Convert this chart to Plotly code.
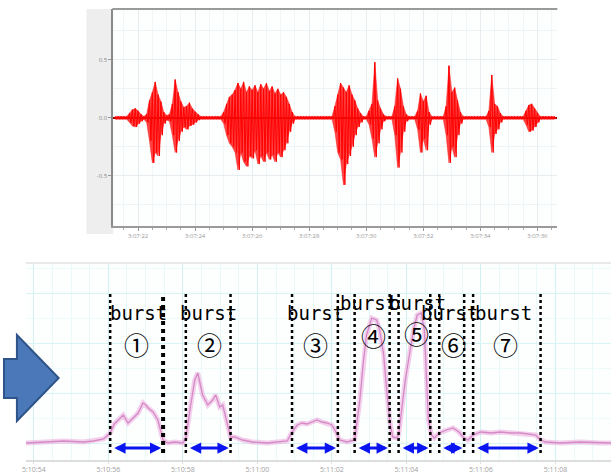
import numpy as np
import plotly.graph_objects as go

W, H = 611, 475

# ---------------- top panel: audio waveform envelope (seconds after 3:07:00) ----------------
wave_t0 = 21.2
wave_step = 0.1
wave_hi = [0.012, 0.012, 0.012, 0.012, 0.012,
           0.04, 0.07, 0.08, 0.06, 0.03,
           0.012, 0.03,
           0.15, 0.22, 0.31, 0.20, 0.14, 0.05,
           0.02, 0.03,
           0.12, 0.33, 0.22, 0.14, 0.09, 0.10, 0.13, 0.08, 0.05, 0.03,
           0.012, 0.012, 0.012, 0.012, 0.012, 0.012, 0.012, 0.012,
           0.05,
           0.12, 0.18, 0.20, 0.24, 0.30, 0.25, 0.31, 0.22, 0.27, 0.24, 0.28, 0.22,
           0.29, 0.25, 0.30, 0.23, 0.27, 0.21, 0.25, 0.20, 0.22, 0.18, 0.12, 0.05,
           0.012, 0.012, 0.012, 0.012, 0.012, 0.012, 0.012, 0.012, 0.012, 0.012, 0.012, 0.012, 0.012, 0.012,
           0.10, 0.20, 0.30, 0.26, 0.22, 0.28, 0.20, 0.15, 0.08, 0.04,
           0.012, 0.012,
           0.06, 0.12, 0.48, 0.15, 0.08, 0.03,
           0.012, 0.012, 0.012,
           0.10, 0.34, 0.25, 0.10, 0.03,
           0.012, 0.012, 0.012,
           0.06, 0.21, 0.14, 0.19, 0.05,
           0.012, 0.012, 0.012, 0.012, 0.012,
           0.10, 0.45, 0.22, 0.26, 0.15, 0.05,
           0.012, 0.012, 0.012, 0.012, 0.012, 0.012, 0.012, 0.012, 0.012,
           0.06, 0.37, 0.12, 0.10, 0.04,
           0.012, 0.012, 0.012, 0.012, 0.012, 0.012, 0.012, 0.012,
           0.06, 0.11, 0.12, 0.08, 0.04,
           0.012, 0.012, 0.012, 0.012, 0.012, 0.012]
wave_lo = [-0.012, -0.012, -0.012, -0.012, -0.012,
           -0.04, -0.07, -0.08, -0.05, -0.03,
           -0.012, -0.04,
           -0.20, -0.39, -0.30, -0.33, -0.15, -0.05,
           -0.02, -0.03,
           -0.15, -0.30, -0.20, -0.12, -0.08, -0.10, -0.07, -0.06, -0.04, -0.02,
           -0.012, -0.012, -0.012, -0.012, -0.012, -0.012, -0.012, -0.012,
           -0.05,
           -0.15, -0.22, -0.25, -0.30, -0.45, -0.30, -0.38, -0.42, -0.33, -0.35, -0.28, -0.40,
           -0.33, -0.38, -0.30, -0.36, -0.32, -0.38, -0.30, -0.34, -0.28, -0.22, -0.12, -0.05,
           -0.012, -0.012, -0.012, -0.012, -0.012, -0.012, -0.012, -0.012, -0.012, -0.012, -0.012, -0.012, -0.012, -0.012,
           -0.12, -0.30, -0.36, -0.58, -0.40, -0.33, -0.25, -0.15, -0.08, -0.04,
           -0.012, -0.012,
           -0.06, -0.18, -0.34, -0.22, -0.10, -0.03,
           -0.012, -0.012, -0.012,
           -0.15, -0.43, -0.30, -0.12, -0.03,
           -0.012, -0.012, -0.012,
           -0.10, -0.30, -0.18, -0.28, -0.06,
           -0.012, -0.012, -0.012, -0.012, -0.012,
           -0.15, -0.39, -0.25, -0.34, -0.15, -0.05,
           -0.012, -0.012, -0.012, -0.012, -0.012, -0.012, -0.012, -0.012, -0.012,
           -0.08, -0.30, -0.14, -0.10, -0.04,
           -0.012, -0.012, -0.012, -0.012, -0.012, -0.012, -0.012, -0.012,
           -0.06, -0.12, -0.11, -0.08, -0.04,
           -0.012, -0.012, -0.012, -0.012, -0.012, -0.012]
top_tick_vals = [22, 24, 26, 28, 30, 32, 34, 36]
top_tick_text = ["3:07:22", "3:07:24", "3:07:26", "3:07:28", "3:07:30", "3:07:32", "3:07:34", "3:07:36"]
amp_tick_vals = [-0.5, 0.0, 0.5]
amp_tick_text = ["-0.5", "0.0", "0.5"]

# ---------------- bottom panel: level trace (seconds after 5:10:54) ----------------
level_t = [-0.21, 0.27, 0.8, 1.33, 1.6, 1.87,
           2.05, 2.16, 2.27, 2.4, 2.53, 2.67, 2.8, 2.93, 3.01, 3.07,
           3.2, 3.33, 3.41, 3.47, 3.6, 3.79, 4.0, 4.08, 4.21, 4.32,
           4.4, 4.53, 4.67, 4.8, 4.88, 4.99, 5.07, 5.2, 5.28, 5.39,
           5.6, 5.87, 6.27, 6.8, 6.93, 7.07, 7.2, 7.33, 7.47, 7.6,
           7.73, 7.87, 8.0, 8.08, 8.21, 8.4, 8.61, 8.75, 8.85, 8.93,
           9.07, 9.2, 9.28, 9.39, 9.47, 9.55, 9.63, 9.73, 9.79, 9.87,
           9.97, 10.08, 10.19, 10.29, 10.4, 10.48, 10.53, 10.59, 10.67, 10.75,
           10.88, 11.07, 11.25, 11.41, 11.55, 11.65, 11.79, 12.0, 12.27, 12.53,
           12.8, 13.07, 13.47, 13.6, 13.73, 14.13, 14.67, 15.2, 15.49]
level_v = [17, 18, 19, 18, 19, 21,
           27, 36, 40, 45, 37, 42, 47, 57, 55, 52,
           48, 40, 28, 20, 17, 18, 17, 22, 55, 80,
           87, 65, 55, 60, 65, 53, 55, 35, 23, 23,
           20, 18, 17, 19, 28, 35, 37, 36, 38, 40,
           38, 37, 35, 30, 20, 18, 20, 60, 100, 125,
           142, 140, 130, 105, 70, 40, 23, 22, 25, 50,
           80, 105, 130, 145, 147, 130, 80, 40, 25, 22,
           27, 30, 32, 28, 22, 20, 25, 28, 27, 28,
           27, 27, 25, 20, 18, 17, 18, 17, 17]
bottom_tick_vals = [0, 2, 4, 6, 8, 10, 12, 14]
bottom_tick_text = ["5:10:54", "5:10:56", "5:10:58", "5:11:00", "5:11:02", "5:11:04", "5:11:06", "5:11:08"]

burst_start = [2.05, 4.08, 6.93, 8.61, 9.79, 10.88, 11.79]
burst_end = [3.47, 5.28, 8.16, 9.55, 10.64, 11.55, 13.6]
burst_word = "burst"
burst_numbers = ["①", "②", "③", "④", "⑤", "⑥", "⑦"]

assert len(wave_hi) == len(wave_lo)
assert len(level_t) == len(level_v)


def px(x):
    return x / W


def py(y):
    return 1 - y / H


# build waveform from envelope values
wave_t = [round(wave_t0 + i * wave_step, 2) for i in range(len(wave_hi))]
zig_x, zig_y = [], []
for t, hi, lo in zip(wave_t, wave_hi, wave_lo):
    zig_x += [t, t + wave_step / 2]
    zig_y += [hi, lo]

fig = go.Figure()
# envelope fill
fig.add_trace(go.Scatter(x=wave_t, y=wave_lo, mode="lines", line=dict(color="rgba(255,20,20,0.6)", width=0.8),
                         xaxis="x", yaxis="y", hoverinfo="skip", showlegend=False))
fig.add_trace(go.Scatter(x=wave_t, y=wave_hi, mode="lines", line=dict(color="rgba(255,20,20,0.6)", width=0.8),
                         fill="tonexty", fillcolor="rgba(255,15,15,0.78)",
                         xaxis="x", yaxis="y", hoverinfo="skip", showlegend=False))
# oscillation strokes
fig.add_trace(go.Scatter(x=zig_x, y=zig_y, mode="lines", line=dict(color="#ff0000", width=1),
                         xaxis="x", yaxis="y", hoverinfo="skip", showlegend=False))

fig.add_trace(go.Scatter(x=level_t, y=level_v, mode="lines",
                         line=dict(color="rgba(235,170,220,0.55)", width=5),
                         xaxis="x2", yaxis="y2", hoverinfo="skip", showlegend=False))
fig.add_trace(go.Scatter(x=level_t, y=level_v, mode="lines",
                         line=dict(color="#d58ac6", width=1.3),
                         xaxis="x2", yaxis="y2", hoverinfo="skip", showlegend=False))

shapes = []
# grey label strip left of top panel
shapes.append(dict(type="rect", xref="paper", yref="paper", x0=px(83), x1=px(110), y0=py(234), y1=py(9),
                   fillcolor="#eeeeee", line=dict(width=0), layer="below"))
# top border of top panel
shapes.append(dict(type="line", xref="paper", yref="paper", x0=px(109), x1=px(557), y0=py(9), y1=py(9),
                   line=dict(color="#9a9a9a", width=2)))
# top border of bottom panel
shapes.append(dict(type="line", xref="paper", yref="paper", x0=px(22), x1=1, y0=py(263), y1=py(263),
                   line=dict(color="#e2e2e2", width=1.5)))

# dotted burst boundaries
for i, (s, e) in enumerate(zip(burst_start, burst_end)):
    shapes.append(dict(type="line", xref="x2", yref="y2", x0=s, x1=s, y0=7, y1=167,
                       line=dict(color="black", width=2.5, dash="dot")))
    shapes.append(dict(type="line", xref="x2", yref="y2", x0=e, x1=e, y0=7, y1=167,
                       line=dict(color="black", width=4 if i == 0 else 2.5, dash="dot")))

# big blue arrow
arrow_pts = [(0, 359), (13, 359), (13, 335), (55, 378), (13, 421), (13, 398), (0, 398)]
path = "M " + " L ".join(f"{px(x):.5f},{py(y):.5f}" for x, y in arrow_pts) + " Z"
shapes.append(dict(type="path", xref="paper", yref="paper", path=path,
                   fillcolor="#4a78b8", line=dict(color="#2f5489", width=2)))

annotations = []
word_y = [147, 147, 147, 157, 157, 147, 147]
num_y = [116, 116, 116, 125, 127, 116, 116]
word_x = [2.8, 4.69, 7.57, 8.99, 10.29, 11.15, 12.61]
num_x = [2.75, 4.72, 7.55, 9.12, 10.27, 11.25, 12.67]
for i, (s, e) in enumerate(zip(burst_start, burst_end)):
    annotations.append(dict(x=e - 0.05, y=12, ax=s + 0.07, ay=12, xref="x2", yref="y2",
                            axref="x2", ayref="y2", text="", showarrow=True,
                            arrowhead=2, arrowside="end+start", arrowsize=0.75, arrowwidth=3,
                            arrowcolor="#0a14f0", standoff=0, startstandoff=0))
    annotations.append(dict(x=word_x[i], y=word_y[i], xref="x2", yref="y2", text=burst_word,
                            showarrow=False, font=dict(family="DejaVu Sans Mono", size=19, color="black")))
    annotations.append(dict(x=num_x[i], y=num_y[i], xref="x2", yref="y2", text=burst_numbers[i],
                            showarrow=False, font=dict(family="Noto Sans CJK JP", size=25, color="black")))

fig.update_layout(
    width=W, height=H, margin=dict(l=0, r=0, t=0, b=0),
    paper_bgcolor="white", plot_bgcolor="#fdffff",
    showlegend=False,
    shapes=shapes, annotations=annotations,
    xaxis=dict(domain=[px(110), px(557)], range=[21.13, 36.7], anchor="y",
               tickmode="array", tickvals=top_tick_vals, ticktext=top_tick_text,
               tickfont=dict(size=6, color="#999999"), ticks="outside", ticklen=3, tickcolor="#999999",
               showline=True, linecolor="#9a9a9a", linewidth=2, mirror=False,
               showgrid=True, gridcolor="#e6ecef", gridwidth=1, zeroline=False,
               minor=dict(dtick=0.5, tick0=0, showgrid=True, gridcolor="#f1f5f7", ticks="outside",
                          ticklen=2, tickcolor="#aaaaaa")),
    yaxis=dict(domain=[py(226), py(9)], range=[-0.935, 0.94], anchor="x",
               tickmode="array", tickvals=amp_tick_vals, ticktext=amp_tick_text,
               tickfont=dict(size=6, color="#888888"), ticks="outside", ticklen=3, tickcolor="#999999",
               showline=True, linecolor="#8a8a8a", linewidth=2,
               showgrid=True, gridcolor="#e6ecef",
               zeroline=True, zerolinecolor="#a00000", zerolinewidth=2,
               minor=dict(dtick=0.25, tick0=0, showgrid=True, gridcolor="#eef3f5")),
    xaxis2=dict(domain=[px(22), 1], range=[-0.213, 15.49], anchor="y2",
                tickmode="array", tickvals=bottom_tick_vals, ticktext=bottom_tick_text,
                tickfont=dict(size=7, color="#a0a0a0"), ticks="outside", ticklen=2, tickcolor="#dddddd",
                showline=True, linecolor="#dddddd", linewidth=1.5,
                showgrid=True, gridcolor="#d2f2f2", zeroline=False,
                minor=dict(dtick=0.5, tick0=0, showgrid=True, gridcolor="#e9f9f9")),
    yaxis2=dict(domain=[py(460), py(263)], range=[0, 197], anchor="x2",
                showticklabels=False, ticks="", showline=False,
                tickmode="linear", tick0=17, dtick=50,
                showgrid=True, gridcolor="#d9f4f4", zeroline=False,
                minor=dict(dtick=25, tick0=17, showgrid=True, gridcolor="#edfbfb")),
)

fig.write_html("out.html", config={"displayModeBar": False},
               post_script="document.body.style.margin='0';document.body.style.overflow='hidden';")
